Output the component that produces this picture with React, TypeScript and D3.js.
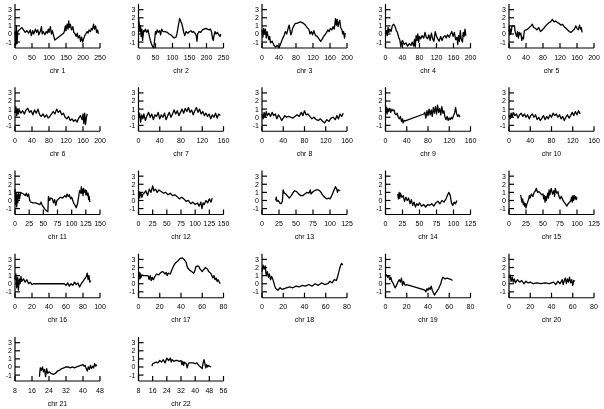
import React from "react";
import * as d3 from "d3";

type P = [number, number];

const chr1: P[] = [[0,0.3],[2,-1.4],[4,1.0],[6,-1.2],[8,0.2],[10,0.4],[15,0.6],[20,0.8],[25,0.5],[30,0.2],[35,0.4],[40,0.1],[45,0.5],[48,-0.2],[52,0.4],[55,0.0],[60,0.6],[63,0.2],[67,0.5],[70,-0.1],[75,0.4],[78,0.9],[80,0.0],[83,0.3],[88,-0.1],[92,0.3],[95,0.1],[98,0.6],[100,0.2],[104,0.9],[107,0.0],[110,0.4],[113,-0.1],[117,-0.75],[143,0.1],[145,0.3],[148,1.0],[150,0.4],[153,1.2],[156,0.6],[158,1.6],[160,0.8],[163,1.2],[166,0.5],[170,0.9],[173,0.2],[177,0.0],[180,-0.3],[183,0.1],[186,-0.5],[190,-0.2],[193,-0.9],[196,-0.4],[199,-1.0],[202,-0.6],[205,-0.2],[208,0.0],[212,0.3],[215,0.1],[218,0.5],[222,0.3],[225,0.7],[228,0.5],[231,1.2],[234,0.6],[237,1.0],[240,0.2],[243,0.5],[245,0.0]];
const chr2: P[] = [[0,2.0],[2,1.3],[4,0.3],[6,1.0],[8,-0.3],[10,0.6],[12,-0.8],[15,0.4],[18,0.3],[20,0.6],[24,0.2],[28,0.5],[32,-0.3],[35,-0.8],[38,-1.2],[42,-1.6],[45,-1.7],[48,-0.5],[50,0.3],[52,0.0],[55,0.5],[58,0.2],[62,0.4],[65,-0.1],[68,0.6],[72,0.3],[78,0.3],[85,0.2],[90,0.0],[95,-0.1],[100,-0.3],[105,-0.5],[110,-0.4],[113,0.0],[115,0.5],[118,1.2],[121,1.9],[124,1.6],[127,1.3],[130,0.8],[133,0.2],[136,-0.2],[140,0.3],[145,0.1],[150,0.3],[155,0.4],[158,0.2],[162,0.3],[166,0.1],[170,-0.2],[172,-0.9],[174,0.0],[178,0.3],[183,0.2],[188,0.5],[193,0.6],[198,0.7],[203,0.6],[208,0.5],[212,0.6],[215,0.2],[218,-0.6],[220,-0.8],[222,-0.2],[225,0.3],[228,0.0],[232,0.2],[236,-0.1],[240,-0.3],[242,0.0]];
const chr3: P[] = [[0,0.5],[2,-0.4],[4,0.7],[6,0.0],[8,0.6],[10,-0.5],[12,0.3],[14,-0.2],[16,-0.7],[18,-0.3],[20,-1.1],[24,-0.9],[28,-1.4],[32,-1.6],[36,-1.4],[40,-1.7],[44,-1.2],[48,-0.6],[52,-0.2],[55,0.3],[58,0.0],[61,0.6],[64,1.1],[66,0.4],[68,-0.1],[70,0.2],[72,0.7],[75,1.0],[78,1.3],[82,1.3],[86,1.4],[90,1.5],[94,1.4],[98,1.3],[102,1.1],[106,0.8],[110,0.6],[113,0.0],[116,0.3],[119,-0.1],[122,0.4],[126,-0.2],[130,-0.3],[134,-0.6],[138,-0.9],[141,-0.7],[144,-0.4],[148,-0.1],[152,0.2],[155,0.5],[158,0.3],[161,0.7],[164,0.5],[167,0.9],[170,0.6],[173,1.9],[175,1.1],[177,1.8],[179,0.9],[181,1.4],[183,1.7],[185,0.8],[188,0.5],[190,0.0],[192,0.3],[194,-0.5],[196,0.1]];
const chr4: P[] = [[0,0.0],[2,0.4],[4,-0.2],[6,0.8],[8,0.2],[10,0.6],[13,0.3],[16,1.0],[19,1.2],[22,1.0],[25,0.5],[28,0.2],[31,-0.4],[34,-0.8],[36,-1.6],[38,-1.0],[40,-0.8],[44,-1.3],[48,-1.1],[52,-1.5],[56,-1.2],[60,-1.4],[63,-1.0],[66,-1.5],[68,-0.7],[70,-1.6],[72,-0.2],[74,-0.8],[76,0.0],[78,-1.0],[80,-0.3],[83,-0.6],[86,-0.2],[90,-0.5],[93,0.2],[96,-0.4],[99,-0.6],[102,-0.1],[105,-0.8],[108,0.1],[111,-0.6],[114,-0.9],[117,0.3],[120,-0.3],[123,-0.6],[126,-0.9],[130,-0.3],[133,-0.8],[136,-0.4],[140,-0.2],[143,-0.5],[146,-0.1],[150,-0.4],[153,0.0],[156,0.3],[159,-0.3],[162,0.2],[165,-0.7],[168,-0.4],[170,-1.3],[172,-0.2],[174,-0.9],[176,0.4],[178,-0.6],[181,-1.0],[183,0.2],[185,-0.3],[187,0.6],[189,-0.2]];
const chr5: P[] = [[0,0.3],[1,1.0],[2,-0.1],[3,0.6],[4,0.0],[6,0.5],[7,1.0],[13,1.0],[14,0.4],[16,0.0],[18,-0.3],[20,0.3],[22,-0.5],[24,0.2],[26,-0.1],[28,0.1],[30,-0.8],[32,-0.4],[34,-0.6],[36,0.4],[40,0.5],[44,0.6],[48,0.8],[52,1.0],[55,1.2],[58,0.8],[62,0.7],[66,0.5],[70,0.8],[74,0.3],[78,0.5],[82,0.7],[86,1.0],[90,1.2],[94,1.4],[98,1.5],[102,1.8],[106,1.5],[110,1.6],[114,1.4],[118,1.3],[122,1.1],[126,1.2],[130,0.9],[134,0.7],[138,0.5],[142,0.3],[146,0.2],[150,0.4],[154,0.6],[157,1.0],[160,0.7],[163,0.5],[166,1.1],[168,0.6],[170,0.8],[172,0.2]];
const chr6: P[] = [[0,0.5],[2,1.3],[4,0.2],[6,1.0],[8,0.4],[10,0.9],[14,0.5],[18,0.8],[22,0.4],[26,0.9],[30,1.1],[34,0.6],[38,0.8],[42,0.3],[46,0.9],[50,0.5],[54,1.0],[58,0.3],[62,0.1],[66,0.4],[70,0.0],[74,0.3],[78,-0.1],[82,0.1],[86,0.4],[90,0.7],[94,0.4],[98,1.0],[102,0.6],[106,0.8],[110,0.3],[114,0.5],[118,0.0],[122,-0.2],[126,0.1],[130,-0.4],[134,-0.2],[138,-0.5],[142,-0.3],[146,-0.6],[150,-0.1],[154,0.2],[158,-0.3],[160,0.4],[162,-0.8],[164,0.5],[166,-0.9],[168,0.0],[170,0.4]];
const chr7: P[] = [[0,0.0],[2,0.5],[4,-0.6],[6,0.3],[8,-0.2],[10,0.4],[13,-0.4],[16,0.2],[19,0.6],[22,0.0],[25,0.4],[28,-0.3],[31,0.3],[34,0.1],[37,0.6],[40,-0.2],[43,0.3],[46,0.0],[49,0.5],[52,-0.3],[55,0.2],[58,0.6],[61,0.0],[64,0.4],[67,0.9],[70,0.4],[73,0.8],[76,0.2],[79,0.6],[82,1.0],[85,0.5],[88,1.1],[91,0.7],[94,1.2],[97,0.6],[100,0.9],[103,0.3],[106,0.8],[109,1.2],[112,0.6],[115,1.0],[118,0.4],[121,0.7],[124,0.2],[127,0.5],[130,0.1],[133,0.4],[136,-0.2],[139,0.3],[142,0.0],[145,0.5],[148,-0.1],[151,0.4],[154,0.2]];
const chr8: P[] = [[0,0.4],[2,-0.2],[4,0.6],[6,0.0],[8,0.7],[10,0.2],[13,0.5],[16,0.1],[19,0.6],[22,0.2],[25,0.4],[28,-0.2],[31,0.3],[34,0.0],[37,-0.4],[40,-0.1],[43,0.2],[46,0.0],[50,0.1],[54,0.0],[58,-0.1],[62,0.1],[66,0.3],[70,0.1],[74,0.6],[77,0.2],[80,0.8],[83,0.3],[86,0.4],[90,0.1],[94,-0.2],[98,0.0],[102,-0.3],[106,-0.4],[110,-0.2],[114,-0.5],[118,-0.7],[122,-0.3],[126,-0.5],[130,-0.1],[134,0.0],[138,-0.3],[141,0.2],[144,-0.2],[147,0.4],[150,0.1],[153,0.5]];
const chr9: P[] = [[0,1.5],[1,0.6],[2,1.2],[3,0.4],[4,1.0],[6,0.7],[8,1.1],[10,0.6],[12,1.0],[14,0.8],[16,0.9],[18,0.4],[20,0.3],[22,0.5],[24,0.0],[26,-0.2],[28,0.1],[30,-0.5],[32,-0.2],[33,-0.7],[35,-0.4],[37,-0.45],[72,0.4],[74,0.6],[76,-0.1],[78,0.8],[80,0.2],[82,1.0],[84,0.3],[86,0.9],[88,0.1],[90,1.2],[92,0.5],[94,1.3],[96,0.4],[98,1.5],[100,0.6],[102,1.1],[104,0.3],[106,1.3],[108,0.5],[110,0.8],[112,0.0],[114,-0.3],[116,0.1],[118,-0.4],[120,-0.1],[122,-0.3],[124,0.0],[126,-0.2],[128,0.2],[130,0.5],[132,1.2],[134,0.4],[136,0.1],[138,0.3],[140,0.0]];
const chr10: P[] = [[0,0.3],[2,-0.2],[4,0.5],[6,0.0],[8,0.6],[11,0.2],[14,0.4],[17,-0.1],[20,0.3],[23,0.5],[26,0.1],[29,0.4],[32,0.0],[35,0.3],[38,-0.2],[41,0.2],[44,0.4],[47,0.0],[50,0.3],[53,-0.3],[56,0.0],[59,-0.4],[62,-0.1],[65,0.2],[68,-0.3],[71,0.1],[74,-0.2],[77,0.3],[80,0.0],[83,0.5],[86,0.2],[89,0.4],[92,0.0],[95,0.3],[98,-0.2],[101,0.1],[104,-0.4],[107,0.0],[110,0.3],[113,-0.1],[116,0.2],[119,0.6],[122,0.2],[125,0.7],[128,0.3],[131,0.8],[134,0.4]];
const chr11: P[] = [[0,1.4],[1,-0.5],[2,1.0],[3,-0.8],[4,0.7],[5,-0.3],[6,1.0],[8,0.2],[10,1.0],[12,0.9],[15,0.8],[18,0.6],[20,0.9],[22,0.5],[24,0.8],[26,0.0],[28,-0.2],[32,-0.3],[36,-0.3],[40,-0.4],[44,-0.5],[46,-0.2],[48,-0.6],[50,-0.8],[53,-1.1],[56,-1.3],[58,-1.4],[59,0.5],[61,0.0],[63,0.3],[66,0.2],[68,-0.3],[70,0.1],[72,-0.6],[74,0.0],[77,0.2],[80,0.4],[84,0.3],[88,0.6],[90,0.4],[92,0.8],[94,0.5],[96,0.7],[98,0.2],[100,0.4],[102,0.0],[104,-0.4],[106,-0.6],[108,-0.9],[110,-0.5],[112,0.3],[113,0.8],[114,1.2],[116,0.9],[117,1.7],[118,0.9],[119,1.4],[120,0.6],[121,1.5],[122,1.0],[124,1.3],[125,0.7],[126,1.2],[128,0.6],[129,0.9],[130,0.1],[131,0.5],[132,-0.2]];
const chr12: P[] = [[0,0.5],[1,1.1],[2,0.3],[4,1.0],[6,0.4],[8,0.8],[10,0.9],[13,1.2],[16,0.6],[19,1.4],[22,1.0],[25,1.8],[27,1.2],[30,1.4],[33,1.0],[36,1.3],[40,1.1],[44,0.9],[48,1.0],[52,0.7],[56,0.9],[60,0.6],[64,0.7],[68,0.5],[72,0.2],[76,0.4],[80,0.2],[84,-0.1],[88,0.0],[92,-0.4],[96,-0.2],[100,-0.5],[104,-0.3],[107,-0.7],[110,-0.2],[112,-1.0],[114,-0.3],[116,-0.5],[119,0.0],[122,-0.3],[125,0.2],[128,-0.2],[130,0.3]];
const chr13: P[] = [[20,0.0],[21,0.4],[22,-0.1],[24,0.0],[26,-0.3],[28,-0.4],[30,-0.1],[31,1.3],[33,0.9],[35,0.8],[38,0.5],[40,0.3],[43,0.6],[46,1.0],[48,1.2],[51,1.1],[54,0.8],[57,0.6],[60,0.6],[63,0.8],[66,1.0],[69,0.9],[71,1.3],[72,0.8],[74,1.0],[77,1.2],[80,1.3],[83,1.3],[86,1.1],[89,0.7],[92,0.4],[95,0.2],[98,0.3],[100,0.2],[102,0.5],[104,0.9],[106,1.3],[108,1.7],[110,1.4],[111,1.0],[112,1.3],[115,1.2]];
const chr14: P[] = [[18,0.8],[19,0.2],[20,1.0],[21,0.3],[22,0.9],[24,0.4],[26,0.6],[28,-0.1],[30,0.4],[32,0.0],[34,0.3],[36,-0.4],[38,0.1],[40,-0.6],[42,-0.2],[44,-0.8],[46,-0.4],[48,-0.6],[50,-0.3],[53,-0.7],[56,-0.5],[59,-0.8],[62,-0.5],[65,-0.6],[68,-0.4],[71,-0.7],[74,-0.3],[77,-0.1],[80,-0.4],[83,0.0],[86,-0.2],[89,0.2],[91,0.6],[93,1.0],[95,0.7],[96,0.2],[97,-0.3],[99,-0.6],[101,-0.2],[103,-0.4],[105,0.0]];
const chr15: P[] = [[17,0.7],[18,0.3],[19,-0.2],[20,0.2],[21,-0.5],[22,-0.2],[23,-0.7],[24,-0.4],[25,-0.9],[26,-0.5],[27,-0.3],[29,0.2],[30,0.6],[31,0.3],[33,0.8],[35,0.5],[37,1.0],[39,1.2],[40,1.5],[42,1.0],[44,1.1],[46,0.9],[48,0.7],[50,0.8],[51,0.2],[52,0.6],[53,-0.2],[54,0.5],[55,0.0],[57,0.9],[58,0.3],[59,1.3],[60,0.7],[62,1.5],[64,0.8],[66,1.2],[67,0.5],[68,1.5],[70,0.9],[72,1.1],[73,0.6],[75,0.2],[77,0.5],[79,0.1],[81,-0.2],[83,-0.4],[85,-0.7],[87,-0.4],[89,-0.2],[91,0.0],[92,0.4],[93,-0.2],[94,0.6],[95,0.0],[96,0.6],[97,0.2],[98,0.5],[99,0.1],[100,0.4]];
const chr16: P[] = [[0,0.5],[1,1.2],[2,-0.5],[3,0.8],[4,-0.8],[5,0.6],[6,0.0],[7,0.9],[8,0.3],[10,0.6],[12,0.2],[14,0.5],[16,0.0],[18,0.2],[20,-0.1],[22,0.0],[58,0.0],[60,-0.2],[62,0.1],[64,-0.3],[66,0.0],[68,-0.2],[70,0.2],[72,-0.1],[74,0.1],[76,-0.4],[78,0.0],[80,0.3],[82,0.6],[84,0.9],[85,1.3],[86,0.5],[87,1.0],[88,0.2],[89,0.4]];
const chr17: P[] = [[0,1.0],[0.5,1.4],[1,0.6],[1.5,1.3],[2,0.7],[3,1.1],[5,1.0],[7,1.0],[9,1.0],[10,0.5],[11,1.0],[12,0.4],[13,0.8],[14,0.5],[15,0.8],[17,1.2],[19,1.1],[21,1.4],[23,1.5],[25,1.2],[26,1.4],[27,1.0],[28,1.3],[30,1.2],[31,1.6],[33,2.2],[35,2.6],[37,2.8],[39,3.1],[41,3.2],[43,3.0],[45,2.6],[46,2.0],[48,1.7],[50,1.5],[52,1.3],[53,1.6],[54,2.1],[56,2.2],[57,2.1],[58,1.8],[60,1.5],[61,1.7],[63,2.0],[65,1.8],[66,1.5],[68,1.3],[69,1.0],[70,0.7],[71,1.0],[72,0.5],[73,0.7],[74,0.3],[75,0.5],[76,0.2],[77,0.0]];
const chr18: P[] = [[0,1.5],[1,2.3],[2,1.8],[3,2.2],[4,1.0],[5,1.5],[6,0.8],[7,1.2],[8,0.5],[9,0.9],[10,0.6],[11,0.2],[12,-0.3],[13,-0.6],[15,-0.8],[17,-0.5],[19,-0.7],[21,-0.6],[23,-0.5],[26,-0.4],[29,-0.5],[32,-0.3],[35,-0.4],[38,-0.2],[41,-0.3],[44,-0.1],[47,-0.3],[50,0.0],[53,-0.2],[56,0.1],[59,-0.1],[62,0.0],[64,0.3],[66,0.1],[68,0.5],[70,0.4],[71,0.8],[72,1.3],[73,1.8],[74,2.3],[75,2.5],[76,2.3]];
const chr19: P[] = [[0,1.0],[1,1.1],[2,0.8],[3,1.0],[4,0.5],[5,0.8],[6,0.3],[7,0.1],[8,-0.2],[9,-0.5],[10,-0.3],[11,0.0],[12,0.3],[13,0.5],[14,0.2],[15,0.7],[16,-0.2],[17,0.3],[18,-0.1],[19,-0.2],[20,-0.1],[35,-0.7],[37,-0.8],[38,-1.0],[39,-0.6],[40,-0.8],[41,-0.5],[42,-0.7],[43,-0.3],[44,-0.8],[46,-1.4],[48,-1.0],[50,-0.6],[52,0.0],[53,0.5],[54,0.8],[55,0.7],[56,0.6],[58,0.7],[60,0.6],[62,0.5],[63,0.4]];
const chr20: P[] = [[0,0.7],[1,1.1],[2,0.3],[3,0.8],[4,0.2],[5,0.6],[6,0.1],[8,0.5],[10,0.2],[12,0.4],[14,0.0],[16,0.3],[18,0.1],[20,0.2],[23,0.0],[26,0.1],[30,0.0],[34,0.1],[38,0.0],[42,0.2],[44,-0.1],[46,0.3],[48,0.0],[50,0.5],[51,-0.1],[52,0.4],[53,0.7],[54,0.0],[55,0.6],[56,0.2],[57,0.8],[58,0.1],[59,0.5],[60,-0.2],[61,0.4],[62,0.3]];
const chr21: P[] = [[19.5,-1.2],[19.9,-0.1],[20.4,-0.4],[20.9,0.0],[21.4,-0.6],[21.9,-0.3],[22.4,-1.2],[22.9,-0.2],[23.4,-0.8],[24,-0.6],[25,-0.8],[26,-0.9],[27,-0.8],[28,-0.5],[29,-0.4],[30,-0.2],[31,-0.1],[32,0.0],[33,0.0],[34,-0.1],[35,0.0],[36,-0.1],[37,0.0],[38,0.1],[39,0.2],[40,0.3],[40.5,0.1],[41,0.2],[41.5,-0.2],[42,-0.5],[42.5,0.0],[43,-0.3],[43.5,0.2],[44,-0.2],[44.5,0.1],[45,-0.1],[45.5,0.4],[46,0.1],[46.5,0.3]];
const chr22: P[] = [[15.6,0.1],[16,0.4],[17,0.5],[18,0.6],[19,0.5],[20,0.8],[21,0.6],[22,0.9],[23,0.5],[24,1.1],[25,0.8],[26,1.1],[26.5,0.6],[27,0.9],[28,0.7],[29,0.8],[30,0.8],[31,0.7],[32,0.8],[32.5,0.3],[33,0.7],[33.5,0.2],[34,0.6],[35,0.4],[35.5,-0.1],[36,0.3],[36.5,0.5],[37,0.5],[38,0.5],[39,0.5],[40,0.4],[41,0.5],[42,0.2],[43,0.0],[44,-0.2],[44.5,0.5],[45,0.9],[45.5,0.4],[46,-0.1],[46.5,0.3],[47,0.0],[47.5,0.2],[48,0.1],[49,0.0]];

const ticks250 = [0, 50, 100, 150, 200, 250];
const ticks200 = [0, 40, 80, 120, 160, 200];
const ticks160 = [0, 40, 80, 120, 160];
const ticks150 = [0, 25, 50, 75, 100, 125, 150];
const ticks125 = [0, 25, 50, 75, 100, 125];
const ticks100 = [0, 20, 40, 60, 80, 100];
const ticks80 = [0, 20, 40, 60, 80];
const ticks48 = [8, 16, 24, 32, 40, 48];
const ticks56 = [8, 16, 24, 32, 40, 48, 56];
const yTicks = [-1, 0, 1, 2, 3];
const yDomain: [number, number] = [-1.73, 3.7];

const chrNames = ["chr 1","chr 2","chr 3","chr 4","chr 5","chr 6","chr 7","chr 8","chr 9","chr 10","chr 11","chr 12","chr 13","chr 14","chr 15","chr 16","chr 17","chr 18","chr 19","chr 20","chr 21","chr 22"];
const chrData = [chr1, chr2, chr3, chr4, chr5, chr6, chr7, chr8, chr9, chr10, chr11, chr12, chr13, chr14, chr15, chr16, chr17, chr18, chr19, chr20, chr21, chr22];
const chrTicks = [ticks250, ticks250, ticks200, ticks200, ticks200, ticks200, ticks160, ticks160, ticks160, ticks160, ticks150, ticks150, ticks125, ticks125, ticks125, ticks100, ticks80, ticks80, ticks80, ticks80, ticks48, ticks56];

const FONT = "'Liberation Sans', Arial, Helvetica, sans-serif";
const PW = 85;
const PH = 44;

function Panel({ idx }: { idx: number }) {
  const col = idx % 5;
  const row = Math.floor(idx / 5);
  const x0 = 15 + 123.5 * col;
  const base = 48 + 83.25 * row;
  const ticks = chrTicks[idx];
  const x = d3.scaleLinear().domain([ticks[0], ticks[ticks.length - 1]]).range([x0, x0 + PW]);
  const y = d3.scaleLinear().domain(yDomain).range([base, base - PH]);
  const line = d3.line<P>().x((d) => x(d[0])).y((d) => y(d[1]));
  return (
    <g>
      <path d={line(chrData[idx]) || ""} fill="none" stroke="#000" strokeWidth={1.3} strokeLinejoin="round" />
      <line x1={x0} x2={x0} y1={base} y2={base - PH} stroke="#000" strokeWidth={1.2} />
      <line x1={x0} x2={x0 + PW} y1={base} y2={base} stroke="#000" strokeWidth={1.2} />
      {yTicks.map((t) => (
        <line key={"yl" + t} x1={x0} x2={x0 + 5} y1={y(t)} y2={y(t)} stroke="#000" strokeWidth={1.2} />
      ))}
      {ticks.map((t) => (
        <line key={"xl" + t} x1={x(t)} x2={x(t)} y1={base} y2={base - 5} stroke="#000" strokeWidth={1.2} />
      ))}
      <g filter="url(#gray)" fontSize={7} fontFamily={FONT} fill="#000">
        {yTicks.map((t) => (
          <text key={"y" + t} x={x0 - 3} y={y(t)} dy="0.35em" textAnchor="end">{t}</text>
        ))}
        {ticks.map((t) => (
          <text key={"x" + t} x={x(t)} y={base + 11.5} textAnchor="middle">{t}</text>
        ))}
        <text x={x0 + PW / 2} y={base + 24.5} textAnchor="middle">{chrNames[idx]}</text>
      </g>
    </g>
  );
}

export default function App() {
  return (
    <svg width={604} height={409} style={{ position: "absolute", left: 0, top: 0, background: "#fff" }}>
      <defs>
        <filter id="gray" x="-10%" y="-10%" width="120%" height="120%">
          <feOffset dx={0} dy={0} />
        </filter>
      </defs>
      <rect width={604} height={409} fill="#fff" />
      {chrNames.map((_, i) => (
        <Panel key={i} idx={i} />
      ))}
    </svg>
  );
}
